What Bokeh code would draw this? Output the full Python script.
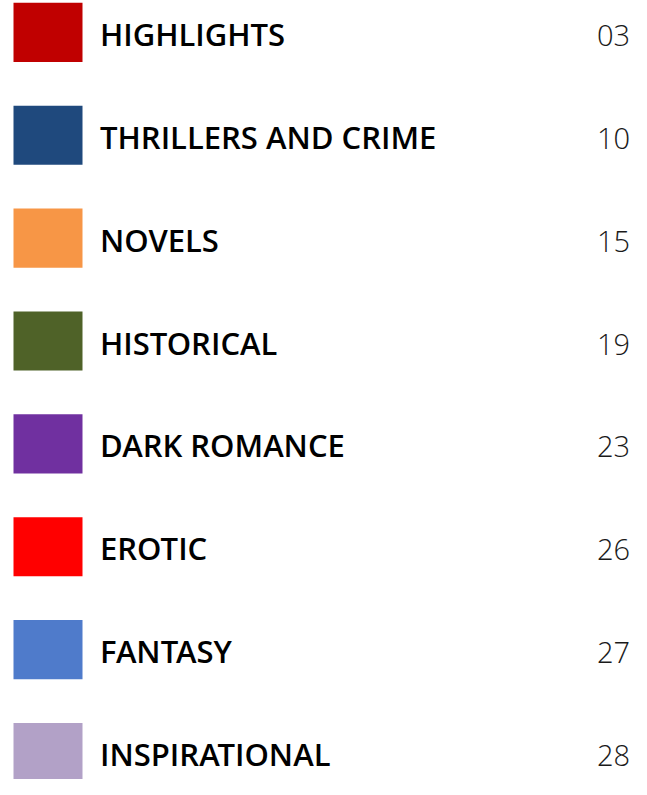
from bokeh.plotting import figure
from bokeh.models import ColumnDataSource, Range1d
from bokeh.core.properties import value
from bokeh.embed import file_html
from bokeh.resources import INLINE

sections = ["HIGHLIGHTS", "THRILLERS AND CRIME", "NOVELS", "HISTORICAL",
            "DARK ROMANCE", "EROTIC", "FANTASY", "INSPIRATIONAL"]
pages = ["03", "10", "15", "19", "23", "26", "27", "28"]
colors = ["#C00000", "#1F497D", "#F79646", "#4F6228",
          "#7030A0", "#FF0000", "#4F7BCB", "#B2A1C7"]

n = len(sections)
idx = list(range(n))
src = ColumnDataSource(dict(idx=idx, section=sections, page=pages, color=colors))

# rows are placed by index; x runs in pixel-like units
p = figure(width=631, height=779, output_backend="svg", toolbar_location=None,
           x_range=Range1d(0, 631), y_range=Range1d(7.262, -0.3096),
           min_border=0)
p.axis.visible = False
p.grid.visible = False
p.outline_line_color = None
p.background_fill_color = "white"
p.border_fill_color = "white"

p.rect(x=47.5, y="idx", width=69, height=0.575,
       fill_color="color", line_color=None, source=src)

p.text(x=99.5, y="idx", text="section", source=src, text_align="left",
       text_baseline="middle", y_offset=1.5,
       text_font=value("'Open Sans SemiBold', 'Open Sans'"),
       text_font_style="normal", text_font_size="31px", text_color="#000000")

p.text(x=629.5, y="idx", text="page", source=src, text_align="right",
       text_baseline="middle", y_offset=3,
       text_font=value("'Open Sans Light', 'Open Sans'"),
       text_font_size="29px", text_color="#1a1a1a")

open("out.html", "w").write(file_html(p, INLINE))
